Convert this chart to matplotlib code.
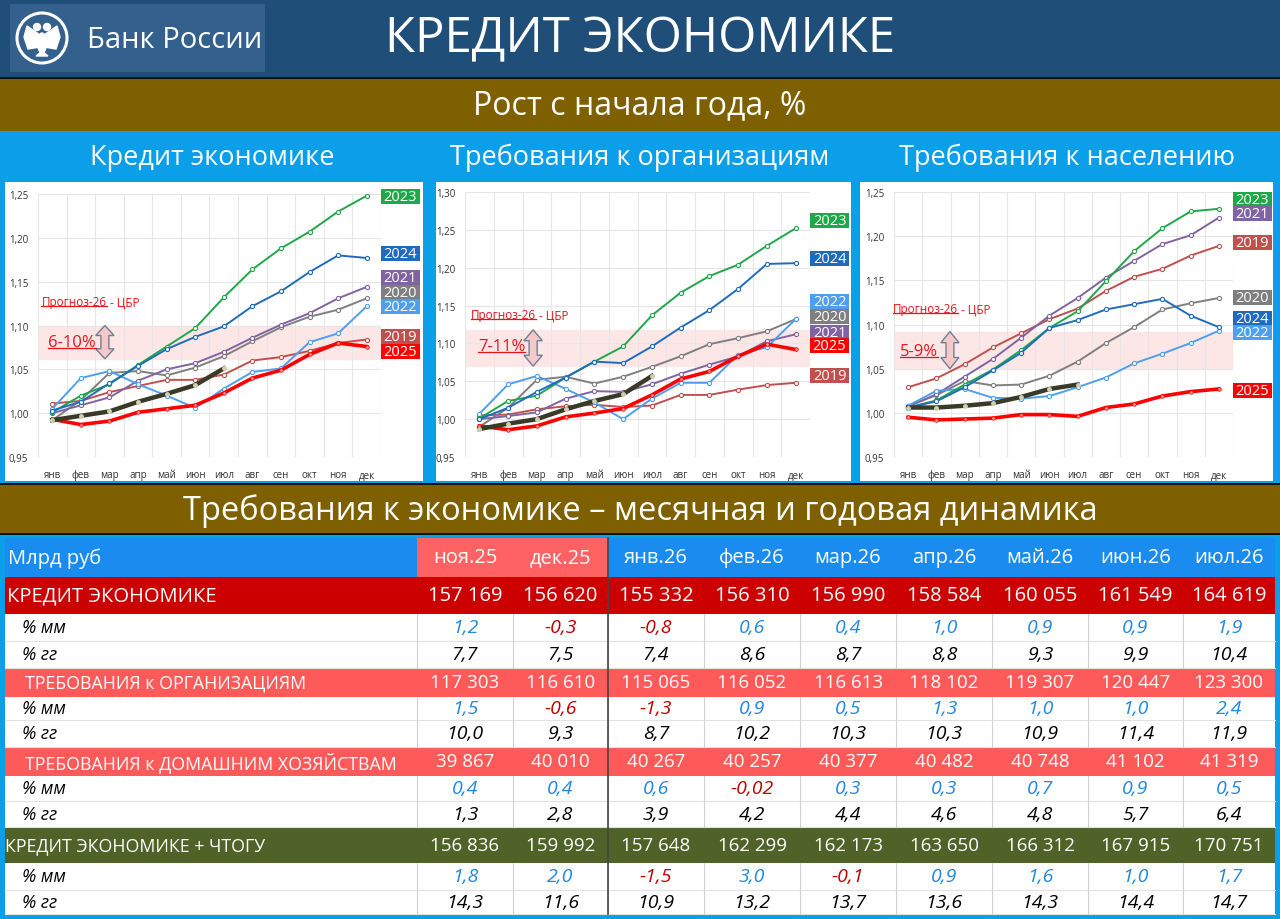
import matplotlib
matplotlib.use('Agg')
import matplotlib.pyplot as plt
from matplotlib.patches import Rectangle, Circle, Polygon, Ellipse
from matplotlib.lines import Line2D
from matplotlib.transforms import IdentityTransform
import numpy as np

plt.rcParams['font.family'] = ['Open Sans', 'DejaVu Sans']

W, H = 1280, 920

months = ['янв', 'фев', 'мар', 'апр', 'май', 'июн', 'июл', 'авг', 'сен', 'окт', 'ноя', 'дек']
years = [2019, 2020, 2021, 2022, 2023, 2024, 2025, 2026]

# Кредит экономике, рост с начала года (1 = начало года)
ke = {
    2019: [1.011, 1.014, 1.024, 1.031, 1.038, 1.038, 1.044, 1.060, 1.064, 1.071, 1.080, 1.084],
    2020: [0.992, 1.015, 1.046, 1.048, 1.043, 1.052, 1.065, 1.082, 1.098, 1.110, 1.118, 1.131],
    2021: [1.000, 1.009, 1.018, 1.037, 1.050, 1.057, 1.070, 1.086, 1.101, 1.114, 1.131, 1.144],
    2022: [1.005, 1.040, 1.048, 1.033, 1.020, 1.006, 1.028, 1.047, 1.051, 1.081, 1.091, 1.122],
    2023: [1.001, 1.020, 1.033, 1.055, 1.076, 1.097, 1.132, 1.164, 1.188, 1.207, 1.230, 1.248],
    2024: [1.003, 1.013, 1.034, 1.054, 1.073, 1.087, 1.099, 1.122, 1.139, 1.161, 1.180, 1.177],
    2025: [0.993, 0.987, 0.991, 1.001, 1.005, 1.009, 1.023, 1.040, 1.049, 1.067, 1.080, 1.076],
    2026: [0.992, 0.997, 1.002, 1.013, 1.022, 1.032, 1.051],
}
# Требования к организациям
org_g = {
    2019: [1.005, 1.006, 1.013, 1.017, 1.019, 1.016, 1.018, 1.032, 1.032, 1.039, 1.045, 1.048],
    2020: [0.990, 1.015, 1.052, 1.056, 1.047, 1.056, 1.069, 1.083, 1.099, 1.107, 1.116, 1.132],
    2021: [1.000, 1.004, 1.009, 1.027, 1.037, 1.036, 1.046, 1.060, 1.072, 1.083, 1.103, 1.112],
    2022: [1.007, 1.046, 1.057, 1.040, 1.022, 1.000, 1.027, 1.048, 1.048, 1.085, 1.095, 1.132],
    2023: [1.001, 1.024, 1.031, 1.055, 1.076, 1.096, 1.137, 1.167, 1.189, 1.204, 1.229, 1.252],
    2024: [1.000, 1.015, 1.036, 1.055, 1.076, 1.074, 1.096, 1.121, 1.144, 1.172, 1.205, 1.206],
    2025: [0.991, 0.986, 0.991, 1.003, 1.008, 1.014, 1.032, 1.053, 1.063, 1.083, 1.099, 1.092],
    2026: [0.987, 0.994, 1.000, 1.013, 1.024, 1.033, 1.057],
}
# Требования к населению
hh_g = {
    2019: [1.029, 1.039, 1.055, 1.074, 1.090, 1.106, 1.118, 1.138, 1.154, 1.163, 1.178, 1.189],
    2020: [1.008, 1.020, 1.036, 1.031, 1.032, 1.042, 1.058, 1.079, 1.097, 1.117, 1.124, 1.130],
    2021: [1.007, 1.021, 1.041, 1.061, 1.085, 1.110, 1.130, 1.153, 1.172, 1.191, 1.201, 1.221],
    2022: [1.008, 1.025, 1.027, 1.017, 1.016, 1.019, 1.029, 1.040, 1.056, 1.067, 1.079, 1.093],
    2023: [1.006, 1.014, 1.032, 1.049, 1.071, 1.096, 1.115, 1.149, 1.183, 1.209, 1.228, 1.231],
    2024: [1.006, 1.013, 1.029, 1.048, 1.068, 1.096, 1.105, 1.117, 1.123, 1.129, 1.110, 1.097],
    2025: [0.995, 0.992, 0.993, 0.994, 0.998, 0.998, 0.996, 1.006, 1.010, 1.019, 1.024, 1.027],
    2026: [1.006, 1.006, 1.008, 1.011, 1.018, 1.027, 1.032],
}

# прогноз ЦБР на 26-й год (диапазон роста)
band_ke = (1.062, 1.100)
band_org = (1.070, 1.118)
band_hh = (1.050, 1.092)

# таблица
cols = ['ноя.25', 'дек.25', 'янв.26', 'фев.26', 'мар.26', 'апр.26', 'май.26', 'июн.26', 'июл.26']
credit = [157169, 156620, 155332, 156310, 156990, 158584, 160055, 161549, 164619]
credit_mm = [1.2, -0.3, -0.8, 0.6, 0.4, 1.0, 0.9, 0.9, 1.9]
credit_yy = [7.7, 7.5, 7.4, 8.6, 8.7, 8.8, 9.3, 9.9, 10.4]
org = [117303, 116610, 115065, 116052, 116613, 118102, 119307, 120447, 123300]
org_mm = [1.5, -0.6, -1.3, 0.9, 0.5, 1.3, 1.0, 1.0, 2.4]
org_yy = [10.0, 9.3, 8.7, 10.2, 10.3, 10.3, 10.9, 11.4, 11.9]
hh = [39867, 40010, 40267, 40257, 40377, 40482, 40748, 41102, 41319]
hh_mm = [0.4, 0.4, 0.6, -0.02, 0.3, 0.3, 0.7, 0.9, 0.5]
hh_yy = [1.3, 2.8, 3.9, 4.2, 4.4, 4.6, 4.8, 5.7, 6.4]
tot = [156836, 159992, 157648, 162299, 162173, 163650, 166312, 167915, 170751]
tot_mm = [1.8, 2.0, -1.5, 3.0, -0.1, 0.9, 1.6, 1.0, 1.7]
tot_yy = [14.3, 11.6, 10.9, 13.2, 13.7, 13.6, 14.3, 14.4, 14.7]

colors = {2019: '#c0504d', 2020: '#7f7f7f', 2021: '#8064a2', 2022: '#4f9ff0',
          2023: '#1fa84a', 2024: '#1f6cbf', 2025: '#ff0000', 2026: '#3a3a28'}
RED_TXT = '#e8141b'

fig = plt.figure(figsize=(12.8, 9.2), dpi=100)
bg = fig.add_axes([0, 0, 1, 1])
bg.set_xlim(0, W)
bg.set_ylim(H, 0)
bg.axis('off')


def rect(x0, y0, x1, y1, color, z=0):
    bg.add_patch(Rectangle((x0, y0), x1 - x0, y1 - y0, facecolor=color, edgecolor='none', zorder=z))


# фон и полосы
rect(0, 0, W, 78, '#1f4e79')
rect(10, 5, 265, 73, '#33608c')
rect(0, 78, W, 80, '#111111')
rect(0, 80, W, 132, '#7f6000')
rect(0, 132, W, 484, '#0a9fe8')
rect(5, 183, 423, 482, 'white')
rect(436, 183, 851, 482, 'white')
rect(860, 183, 1273, 482, 'white')
rect(0, 484, W, 486, '#111111')
rect(0, 486, W, 534, '#7f6000')
rect(0, 534, W, 536, '#111111')
rect(0, 536, W, H, '#0a9fe8')
rect(5, 539, 1275, 915, 'white')

# логотип
bg.add_patch(Circle((42, 39), 25, fill=False, ec='white', lw=2.2))
bg.add_patch(Ellipse((42, 44), 9, 20, color='white'))
bg.add_patch(Polygon([(40, 36), (27, 27), (24, 38), (28, 50), (40, 48)], color='white'))
bg.add_patch(Polygon([(44, 36), (57, 27), (60, 38), (56, 50), (44, 48)], color='white'))
bg.add_patch(Circle((37, 28), 3.5, color='white'))
bg.add_patch(Circle((47, 28), 3.5, color='white'))
bg.add_patch(Polygon([(36, 57), (42, 52), (48, 57)], color='white'))
bg.text(87, 40, 'Банк России', color='white', fontsize=21, va='center', ha='left')

bg.text(640, 40, 'КРЕДИТ ЭКОНОМИКЕ', color='white', fontsize=35.5, va='center', ha='center')
bg.text(640, 106, 'Рост с начала года, %', color='white', fontsize=23, va='center', ha='center')
bg.text(212, 158, 'Кредит экономике', color='white', fontsize=19.5, va='center', ha='center')
bg.text(640, 158, 'Требования к организациям', color='white', fontsize=19.5, va='center', ha='center')
bg.text(1067, 158, 'Требования к населению', color='white', fontsize=19.5, va='center', ha='center')
bg.text(640, 511, 'Требования к экономике – месячная и годовая динамика', color='white',
        fontsize=23.5, va='center', ha='center')

underlined = []


def px_axes(x0, y0, x1, y1):
    return fig.add_axes([x0 / W, 1 - y1 / H, (x1 - x0) / W, (y1 - y0) / H])


def draw_panel(box, series, ytop, band, band_txt, labels, arrow_x, prog_y, txt_y, txt_x):
    x0, y0, x1, y1 = box
    ax = px_axes(x0, y0, x1, y1)
    ax.set_facecolor('none')
    ax.set_xlim(-0.5, 11.5)
    ax.set_ylim(0.95, ytop)
    yt = np.arange(0.95, ytop + 0.001, 0.05)
    ax.set_yticks(yt, [f'{v:.2f}'.replace('.', ',') for v in yt])
    x = np.arange(12)
    ax.set_xticks(x, months)
    ax.set_xticks(np.arange(-0.5, 12, 1), minor=True)
    ax.tick_params(which='both', length=0, labelsize=7, colors='#333333')
    ax.tick_params(axis='x', pad=9)
    ax.tick_params(axis='y', pad=7)
    ax.grid(axis='y', which='major', color='#e6e6e6', lw=0.8)
    ax.grid(axis='x', which='minor', color='#e6e6e6', lw=0.8)
    for s in ax.spines.values():
        s.set_visible(False)
    ax.axhspan(band[0], band[1], color='#fde6e6', zorder=0.5)

    for yr in years:
        vals = series[yr]
        xs = x[:len(vals)]
        if yr == 2026:
            ax.plot(xs, vals, color=colors[yr], lw=3.2, marker='o', ms=2.5,
                    mfc='#d0d0b0', mec='#d0d0b0', zorder=7)
        elif yr == 2025:
            ax.plot(xs, vals, color=colors[yr], lw=2.6, marker='o', ms=2.5,
                    mfc='#ffaaaa', mec=colors[yr], mew=0.6, zorder=6)
        else:
            ax.plot(xs, vals, color=colors[yr], lw=1.4, marker='o', ms=3,
                    mfc='white', mec=colors[yr], mew=0.8, zorder=3)

    # подписи годов справа
    yr_range = ytop - 0.95
    hpx = y1 - y0
    wpx = x1 - x0
    bh = 15 * yr_range / hpx
    bw = 39 / wpx
    tr = ax.get_yaxis_transform()
    for yr, yv in labels.items():
        ax.add_patch(Rectangle((1.0, yv - bh / 2), bw, bh, transform=tr, facecolor=colors[yr],
                               edgecolor='none', clip_on=False, zorder=8))
        ax.text(1.0 + bw / 2, yv, str(yr), transform=tr, ha='center', va='center',
                color='white', fontsize=10.5, zorder=9, clip_on=False)

    # двойная стрелка
    lo, hi = band
    hl = (hi - lo) * 0.3
    hw, sw = 0.32, 0.14
    xc = arrow_x
    pts = [(xc, hi), (xc + hw, hi - hl), (xc + sw, hi - hl), (xc + sw, lo + hl), (xc + hw, lo + hl),
           (xc, lo), (xc - hw, lo + hl), (xc - sw, lo + hl), (xc - sw, hi - hl), (xc - hw, hi - hl)]
    ax.add_patch(Polygon(pts, closed=True, facecolor='#f6c9c9', edgecolor='#6f7f95', lw=1.0, zorder=4))

    t = ax.text(txt_x, txt_y, band_txt, transform=tr, color=RED_TXT, fontsize=12,
                ha='left', va='center', zorder=9)
    underlined.append(t)
    p = ax.text(txt_x - 0.02, prog_y, 'Прогноз-26', transform=tr, color=RED_TXT, fontsize=8.5,
                ha='left', va='center', zorder=9)
    underlined.append(p)
    ax.annotate(' - ЦБР', xy=(1, 0), xycoords=p, ha='left', va='bottom', color=RED_TXT,
                fontsize=8.5, zorder=9)
    return ax


lab_ke = {2023: 1.247, 2024: 1.182, 2021: 1.155, 2020: 1.138, 2022: 1.122, 2019: 1.088, 2025: 1.070}
lab_org = {2023: 1.263, 2024: 1.212, 2022: 1.155, 2020: 1.135, 2021: 1.115, 2025: 1.097, 2019: 1.057}
lab_hh = {2023: 1.242, 2021: 1.226, 2019: 1.193, 2020: 1.131, 2024: 1.107, 2022: 1.091, 2025: 1.025}

draw_panel((38, 195, 381, 458), ke, 1.25, band_ke, '6-10%', lab_ke, 1.84, 1.127, 1.081, 0.03)
draw_panel((465, 193, 810, 458), org_g, 1.30, band_org, '7-11%', lab_org, 1.87, 1.138, 1.097, 0.038)
draw_panel((894, 193, 1233, 458), hh_g, 1.25, band_hh, '5-9%', lab_hh, 1.48, 1.118, 1.070, 0.018)

# ---- таблица ----
col_edges = [417, 513, 608, 704, 800, 896, 992, 1088, 1183, 1275]
row_edges = [539, 578, 615, 642, 669, 698, 721, 748, 777, 802, 828, 864, 891, 915]
col_mid = [(a + b) / 2 for a, b in zip(col_edges[:-1], col_edges[1:])]


def fmt_big(v):
    return f'{v:,}'.replace(',', ' ')


def fmt_pct(v):
    s = f'{v:.1f}' if round(v, 1) == v else f'{v:.2f}'
    return s.replace('.', ',')


# шапка
rect(5, 539, 1275, 578, '#1a8cf0', 1)
rect(417, 539, 608, 578, '#ff6262', 1)
ym = (row_edges[0] + row_edges[1]) / 2
bg.text(8, ym, 'Млрд руб', color='white', fontsize=14.5, va='center', ha='left', zorder=3)
for xm, c in zip(col_mid, cols):
    bg.text(xm, ym, c, color='white', fontsize=14.5, va='center', ha='center', zorder=3)

rows = [
    ('КРЕДИТ ЭКОНОМИКЕ', credit, 'main'),
    ('% мм', credit_mm, 'mm'),
    ('% гг', credit_yy, 'yy'),
    ('ТРЕБОВАНИЯ к ОРГАНИЗАЦИЯМ', org, 'sub'),
    ('% мм', org_mm, 'mm'),
    ('% гг', org_yy, 'yy'),
    ('ТРЕБОВАНИЯ к ДОМАШНИМ ХОЗЯЙСТВАМ', hh, 'sub'),
    ('% мм', hh_mm, 'mm'),
    ('% гг', hh_yy, 'yy'),
    ('КРЕДИТ ЭКОНОМИКЕ + ЧТОГУ', tot, 'tot'),
    ('% мм', tot_mm, 'mm'),
    ('% гг', tot_yy, 'yy'),
]
fills = {'main': '#cc0000', 'sub': '#ff5a5a', 'tot': '#4f6228'}
label_x = {'main': 7, 'sub': 25, 'tot': 5, 'mm': 22, 'yy': 22}

for i, (lab, vals, kind) in enumerate(rows):
    top, bot = row_edges[i + 1], row_edges[i + 2]
    ym = (top + bot) / 2
    if kind in fills:
        rect(5, top, 1275, bot, fills[kind], 1)
        fs = 14.5 if kind == 'main' else 13.5
        lfs = 14.5 if kind == 'main' else 12.8
        bg.text(label_x[kind], ym, lab, color='white', fontsize=lfs, va='center', ha='left', zorder=3)
        for xm, v in zip(col_mid, vals):
            bg.text(xm, ym, fmt_big(v), color='white', fontsize=fs, va='center', ha='center', zorder=3)
    else:
        bg.plot([5, 1275], [bot, bot], color='#e2e2e2', lw=0.8, zorder=2)
        for xe in col_edges[:-1]:
            bg.plot([xe, xe], [top, bot], color='#d0d0d0', lw=0.8, zorder=2)
        bg.text(label_x[kind], ym, lab, color='black', fontsize=13, style='italic',
                va='center', ha='left', zorder=3)
        for xm, v in zip(col_mid, vals):
            if kind == 'mm':
                c = '#c00000' if v < 0 else '#1e88e5'
            else:
                c = 'black'
            bg.text(xm, ym, fmt_pct(v), color=c, fontsize=14, style='italic',
                    va='center', ha='center', zorder=3)

bg.plot([608, 608], [539, 915], color='#444444', lw=1.2, zorder=4)

# подчёркивания
fig.canvas.draw()
for t in underlined:
    bb = t.get_window_extent()
    fig.add_artist(Line2D([bb.x0, bb.x1], [bb.y0 + 2, bb.y0 + 2], color=RED_TXT, lw=0.9,
                          transform=IdentityTransform()))

fig.savefig('out.png', dpi=100)
